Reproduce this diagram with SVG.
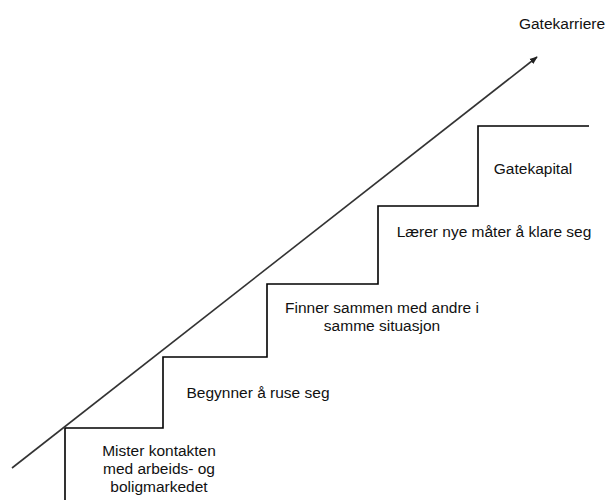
<svg xmlns="http://www.w3.org/2000/svg" width="608" height="500" viewBox="0 0 608 500">
<defs>
<style>
text{font-family:"Liberation Sans",Arial,sans-serif;font-size:15.5px;fill:#111;text-anchor:middle}
.stairs{fill:none;stroke:#000;stroke-width:1.6}
.axis{fill:none;stroke:#333;stroke-width:1.6}
</style>
<marker id="arr" viewBox="0 0 10 10" refX="9" refY="5" markerWidth="5" markerHeight="5" markerUnits="strokeWidth" orient="auto">
<path d="M0,1 L10,5 L0,9 Z" fill="#222"/>
</marker>
</defs>
<rect width="608" height="500" fill="#fff"/>
<g id="connectors">
<path class="stairs" d="M65,500 V428 H163 V357 H267 V284 H378 V206 H478 V126 H589"/>
<line class="axis" x1="12" y1="468" x2="537" y2="57" marker-end="url(#arr)"/>
</g>
<g id="gatekarriere"><text x="562" y="29">Gatekarriere</text></g>
<g id="gatekapital"><text x="533" y="174">Gatekapital</text></g>
<g id="laerer"><text x="494" y="237">Lærer nye måter å klare seg</text></g>
<g id="finner"><text x="382" y="313">Finner sammen med andre i</text><text x="382" y="331">samme situasjon</text></g>
<g id="begynner"><text x="258" y="398">Begynner å ruse seg</text></g>
<g id="mister"><text x="159" y="456">Mister kontakten</text><text x="159" y="474">med arbeids- og</text><text x="159" y="492">boligmarkedet</text></g>
</svg>
